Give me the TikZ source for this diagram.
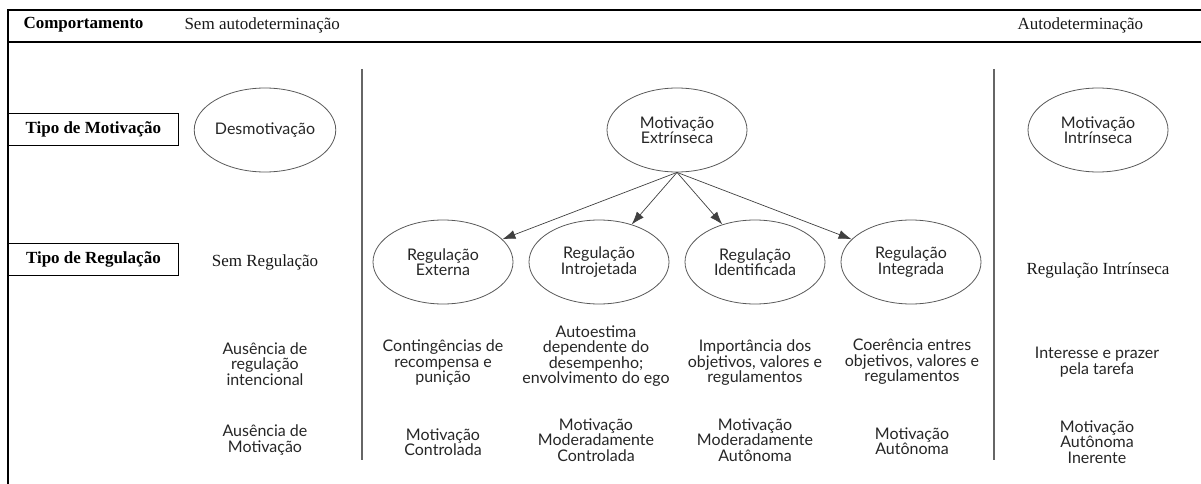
\documentclass[tikz,border=0pt]{standalone}
\usepackage{fontspec}
\setmainfont{Liberation Serif}
\newfontfamily\lsans{Lato}
\usetikzlibrary{shapes.geometric,arrows.meta}

\begin{document}
\begin{tikzpicture}[
            x=1pt, y=-1pt,
            level distance=132pt,
            level 1/.style={sibling distance=156pt},
            oval/.style={ellipse, draw=black!65, line width=0.8pt, minimum width=140pt,
                    minimum height=84pt, inner sep=0pt, align=center, text=black!85,
                    font=\lsans\fontsize{16}{15.5}\selectfont},
            note/.style={align=center, text=black!85, font=\lsans\fontsize{16}{15.5}\selectfont},
            serif/.style={text=black!90, font=\fontsize{17}{20}\selectfont},
            headbox/.style={draw, line width=0.8pt, anchor=west, minimum width=170pt,
                    minimum height=32pt, font=\bfseries\fontsize{17}{20}\selectfont},
            divider/.style={draw=black!60, line width=1.6pt}
        ]
        \useasboundingbox (0,0) rectangle (1201,484);

        % frame and header row
        \coordinate (tl) at (8,10);
        \coordinate (tr) at (1201,10);
        \coordinate (bl) at (8,484);
        \coordinate (hl) at (8,42);
        \coordinate (hr) at (1201,42);
        \draw[line width=2.2pt] (tr) -- (tl) -- (bl);
        \draw[line width=1.2pt] (hl) -- (hr);

        \node[anchor=west, font=\bfseries\fontsize{17}{20}\selectfont] (comp) at (20,25) {Comportamento};
        \node[serif, anchor=west] (semauto) at (181,25) {Sem autodeterminação};
        \node[serif, anchor=west] (auto) at (1014,25) {Autodeterminação};

        \node[headbox] (tmot) at (8,129.5) {Tipo de Motivação};
        \node[headbox] (treg) at (8,259) {Tipo de Regulação};

        % column dividers
        \coordinate (d1a) at (362,69);
        \coordinate (d1b) at (362,460);
        \coordinate (d2a) at (994,69);
        \coordinate (d2b) at (994,460);
        \draw[divider] (d1a) -- (d1b);
        \draw[divider] (d2a) -- (d2b);

        % types of motivation
        \node[oval] (DM) at (265,130) {Desmotivação};
        \node[oval] (MI) at (1098,130) {Motivação\\Intrínseca};

        \node[oval] (ME) at (677,130) {Motivação\\Extrínseca}
        [edge from parent/.style={draw, line width=0.7pt, black!75, -{Latex[length=13pt,width=9pt]}},
            edge from parent path={(\tikzparentnode.south) -- (\tikzchildnode)}]
        child {node[oval] (RE) {Regulação\\Externa}}
        child {node[oval] (RJ) {Regulação\\Introjetada}}
        child {node[oval] (RD) {Regulação\\Identificada}}
        child {node[oval] (RG) {Regulação\\Integrada}};

        \node[serif] (semreg) at (265,262) {Sem Regulação};
        \node[serif] (regint) at (1098,270) {Regulação Intrínseca};

        % processes
        \node[note] (p0) at (265,364) {Ausência de\\regulação\\intencional};
        \node[note] (p1) at (443,363) {Contingências de\\recompensa e\\punição};
        \node[note] (p2) at (596,356) {Autoestima\\dependente do\\desempenho;\\envolvimento do ego};
        \node[note] (p3) at (755,363) {Importância dos\\objetivos, valores e\\regulamentos};
        \node[note] (p4) at (912,362) {Coerência entres\\objetivos, valores e\\regulamentos};
        \node[note] (p5) at (1097,362) {Interesse e prazer\\pela tarefa};

        % kind of motivation
        \node[note] (m0) at (265,440) {Ausência de\\Motivação};
        \node[note] (m1) at (443,442) {Motivação\\Controlada};
        \node[note] (m2) at (596,440) {Motivação\\Moderadamente\\Controlada};
        \node[note] (m3) at (755,440) {Motivação\\Moderadamente\\Autônoma};
        \node[note] (m4) at (912,441) {Motivação\\Autônoma};
        \node[note] (m5) at (1097,442) {Motivação\\Autônoma\\Inerente};
    \end{tikzpicture}
\end{document}
